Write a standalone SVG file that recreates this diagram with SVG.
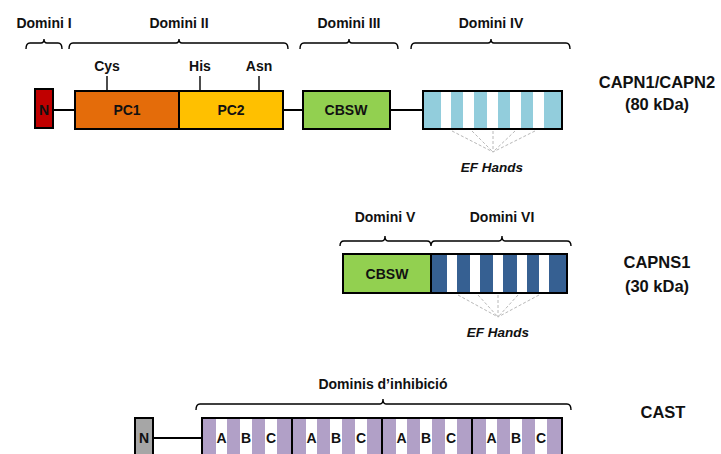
<svg xmlns="http://www.w3.org/2000/svg" width="721" height="454" viewBox="0 0 721 454">
<defs>
<style>
text{font-family:"Liberation Sans",Arial,sans-serif;font-weight:bold;fill:#111;text-anchor:middle}
.lbl{font-size:14px}
.big{font-size:16.5px}
.in{font-size:14px}
.ef{font-size:13.5px;font-style:italic}
.box{stroke:#000;stroke-width:2}
.fr{fill:none;stroke:#000;stroke-width:2}
.ln{stroke:#000;stroke-width:2;fill:none}
.br{fill:none;stroke:#000;stroke-width:1.4}
.tk{stroke:#000;stroke-width:1.4}
.ds{stroke:#b8b8b8;stroke-width:1;stroke-dasharray:3,2;fill:none}
.w{fill:#fff}
.lb{fill:#92cddc}
.db{fill:#366092}
.pu{fill:#b1a0c7}
</style>
</defs>
<rect width="721" height="454" fill="#fff"/>

<g id="connectors">
<line class="ln" x1="53" y1="110" x2="75" y2="110"/>
<line class="ln" x1="283" y1="110" x2="303" y2="110"/>
<line class="ln" x1="390" y1="110" x2="423" y2="110"/>
<line class="ln" x1="153" y1="438" x2="202" y2="438"/>
</g>

<g id="brackets">
<path class="br" d="M26,49 Q26,43 30,43 L41,43 Q44,43 44,39 Q44,43 47,43 L58,43 Q62,43 62,49"/>
<text class="lbl" x="44" y="28">Domini I</text>
<path class="br" d="M69,49 Q69,43 73,43 L176,43 Q179,43 179,39 Q179,43 182,43 L284,43 Q288,43 288,49"/>
<text class="lbl" x="179" y="28">Domini II</text>
<path class="br" d="M300,49 Q300,43 304,43 L346,43 Q349,43 349,39 Q349,43 352,43 L394,43 Q398,43 398,49"/>
<text class="lbl" x="349" y="28">Domini III</text>
<path class="br" d="M411,49 Q411,43 415,43 L488,43 Q491,43 491,39 Q491,43 494,43 L566,43 Q570,43 570,49"/>
<text class="lbl" x="491" y="28">Domini IV</text>
<path class="br" d="M340,246 Q340,241 344,241 L382,241 Q385,241 385,236 Q385,241 388,241 L427,241 Q431,241 431,246 Q431,241 435,241 L499,241 Q502,241 502,236 Q502,241 505,241 L567,241 Q571,241 571,246"/>
<text class="lbl" x="385" y="222">Domini V</text>
<text class="lbl" x="502" y="222">Domini VI</text>
<path class="br" d="M196,410 Q196,404 200,404 L380,404 Q383,404 383,399 Q383,404 386,404 L567,404 Q571,404 571,410"/>
<text class="lbl" x="383" y="389">Dominis d’inhibició</text>
</g>

<g id="capn-n">
<rect class="box" x="35" y="89" width="18" height="39" fill="#c00000"/>
<text class="in" x="44" y="115">N</text>
</g>
<g id="pc1">
<rect class="box" x="75" y="91" width="104" height="38" fill="#e46c0a"/>
<text class="in" x="127" y="115">PC1</text>
<line class="tk" x1="107" y1="76" x2="107" y2="91"/>
<text class="lbl" x="107" y="71">Cys</text>
</g>
<g id="pc2">
<rect class="box" x="179" y="91" width="104" height="38" fill="#ffc000"/>
<text class="in" x="231" y="115">PC2</text>
<line class="tk" x1="200" y1="76" x2="200" y2="91"/>
<text class="lbl" x="200" y="71">His</text>
<line class="tk" x1="259" y1="76" x2="259" y2="91"/>
<text class="lbl" x="259" y="71">Asn</text>
</g>
<g id="cbsw1">
<rect class="box" x="303" y="91" width="87" height="38" fill="#92d050"/>
<text class="in" x="346" y="115">CBSW</text>
</g>
<g id="ef1">
<rect class="lb" x="423" y="91" width="139" height="38"/>
<rect class="w" x="441" y="91" width="10" height="38"/>
<rect class="w" x="463" y="91" width="11" height="38"/>
<rect class="w" x="487" y="91" width="11" height="38"/>
<rect class="w" x="510" y="91" width="11" height="38"/>
<rect class="w" x="533" y="91" width="11" height="38"/>
<rect class="fr" x="423" y="91" width="139" height="38"/>
<path class="ds" d="M452,131 L493,152 M472,131 L493,152 M493,131 L493,152 M515,131 L493,152 M535,131 L493,152"/>
<text class="ef" x="492" y="172">EF Hands</text>
</g>
<g id="capn1-label">
<text class="big" x="657" y="88">CAPN1/CAPN2</text>
<text class="big" x="657" y="110">(80 kDa)</text>
</g>

<g id="cbsw2">
<rect class="box" x="343" y="254" width="88" height="39" fill="#92d050"/>
<text class="in" x="387" y="279">CBSW</text>
</g>
<g id="ef2">
<rect class="db" x="431" y="254" width="136" height="39"/>
<rect class="w" x="447" y="254" width="10" height="39"/>
<rect class="w" x="470" y="254" width="10" height="39"/>
<rect class="w" x="493" y="254" width="10" height="39"/>
<rect class="w" x="517" y="254" width="10" height="39"/>
<rect class="w" x="539" y="254" width="10" height="39"/>
<rect class="fr" x="431" y="254" width="136" height="39"/>
<path class="ds" d="M458,295 L498,317 M478,295 L498,317 M498,295 L498,317 M518,295 L498,317 M539,295 L498,317"/>
<text class="ef" x="498" y="337">EF Hands</text>
</g>
<g id="capns1-label">
<text class="big" x="657" y="268">CAPNS1</text>
<text class="big" x="657" y="292">(30 kDa)</text>
</g>

<g id="cast-n">
<rect class="box" x="135" y="418" width="18" height="40" fill="#a6a6a6"/>
<text class="in" x="144" y="443">N</text>
</g>
<g id="cast-domains">
<rect class="pu" x="202" y="418" width="360" height="40"/>
<rect class="w" x="216" y="418" width="11" height="40"/>
<rect class="w" x="240" y="418" width="12" height="40"/>
<rect class="w" x="265" y="418" width="12" height="40"/>
<rect class="w" x="306" y="418" width="11" height="40"/>
<rect class="w" x="330" y="418" width="12" height="40"/>
<rect class="w" x="355" y="418" width="12" height="40"/>
<rect class="w" x="396" y="418" width="11" height="40"/>
<rect class="w" x="420" y="418" width="12" height="40"/>
<rect class="w" x="445" y="418" width="12" height="40"/>
<rect class="w" x="486" y="418" width="11" height="40"/>
<rect class="w" x="510" y="418" width="12" height="40"/>
<rect class="w" x="535" y="418" width="12" height="40"/>
<rect class="fr" x="202" y="418" width="360" height="40"/>
<line class="ln" x1="292" y1="418" x2="292" y2="454"/>
<line class="ln" x1="382" y1="418" x2="382" y2="454"/>
<line class="ln" x1="472" y1="418" x2="472" y2="454"/>
<text class="in" x="221.5" y="443">A</text><text class="in" x="246" y="443">B</text><text class="in" x="271" y="443">C</text>
<text class="in" x="311.5" y="443">A</text><text class="in" x="336" y="443">B</text><text class="in" x="361" y="443">C</text>
<text class="in" x="401.5" y="443">A</text><text class="in" x="426" y="443">B</text><text class="in" x="451" y="443">C</text>
<text class="in" x="491.5" y="443">A</text><text class="in" x="516" y="443">B</text><text class="in" x="541" y="443">C</text>
</g>
<g id="cast-label">
<text class="big" x="663" y="418">CAST</text>
</g>
</svg>
